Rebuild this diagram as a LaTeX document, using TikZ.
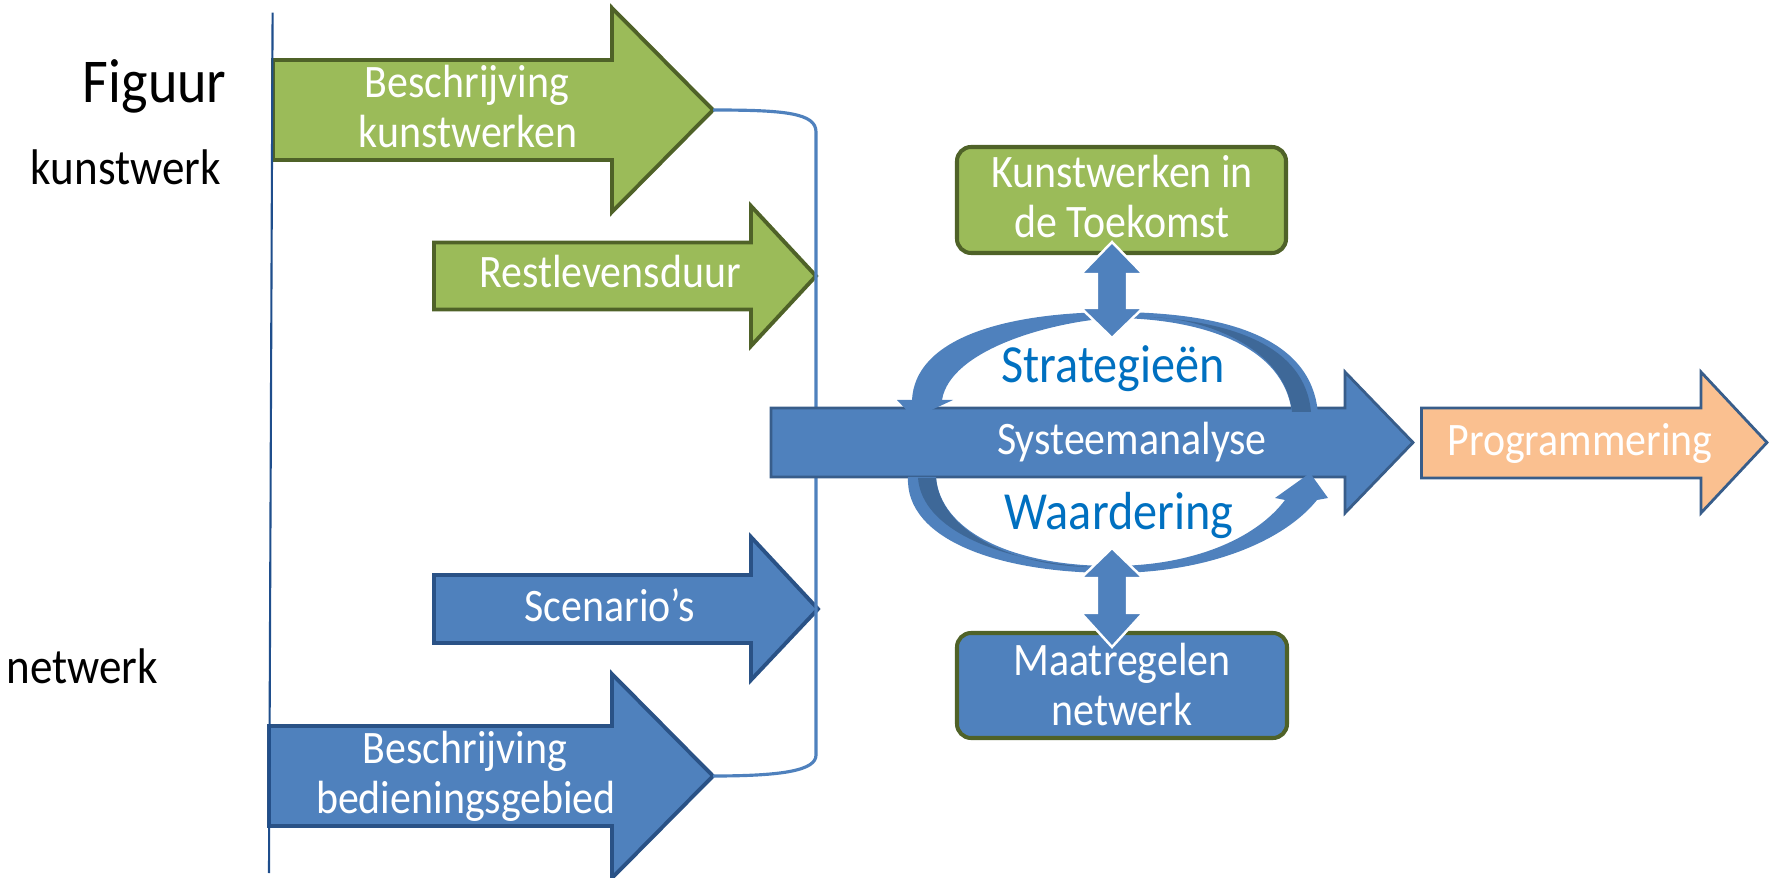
\documentclass[tikz,border=0pt]{standalone}
\usepackage{fontspec}
\setmainfont{Carlito}[FakeStretch=0.9]
\definecolor{gfill}{HTML}{9BBB59}
\definecolor{gline}{HTML}{4F6228}
\definecolor{bfill}{HTML}{4F81BD}
\definecolor{bline}{HTML}{2A5286}
\definecolor{sline}{HTML}{385D8A}
\definecolor{ofill}{HTML}{FAC090}
\definecolor{bdark}{HTML}{3E6898}
\definecolor{tblue}{HTML}{0070C0}
\definecolor{vlinec}{HTML}{1F4E8C}
\begin{document}
\begin{tikzpicture}[x=0.02cm,y=-0.02cm,
  garrow/.style={fill=gfill, draw=gline, line width=2.2pt},
  barrow/.style={fill=bfill, draw=bline, line width=2.2pt},
  sarrow/.style={fill=bfill, draw=sline, line width=1.6pt},
  oarrow/.style={fill=ofill, draw=sline, line width=1.6pt},
  gbox/.style={fill=gfill, draw=gline, line width=2.3pt, rounded corners=8pt},
  bbox/.style={fill=bfill, draw=gline, line width=2.3pt, rounded corners=8pt},
  ribbon/.style={fill=bfill},
  shade/.style={fill=bdark},
  darr/.style={fill=bfill, draw=white, line width=1.4pt},
  bracket/.style={draw=bfill, line width=1.8pt},
  vl/.style={draw=vlinec, line width=1.2pt},
  wt/.style={inner sep=0pt, text=white, anchor=base, font=\fontsize{26.5}{30}\selectfont},
  bt/.style={inner sep=0pt, text=tblue, anchor=base, font=\fontsize{30.5}{34}\selectfont},
  kt/.style={inner sep=0pt, text=black, font=\fontsize{28.5}{32}\selectfont}]
\useasboundingbox (0,0) rectangle (1769,878);

% left arrows
\draw[garrow] (273,60) -- (612,60) -- (612,8) -- (713,110) -- (612,212) -- (612,160) -- (273,160) -- cycle;
\draw[garrow] (434,242.5) -- (751,242.5) -- (751,206) -- (816,276) -- (751,346) -- (751,309.5) -- (434,309.5) -- cycle;
\draw[barrow] (434,575) -- (751,575) -- (751,537) -- (818,609) -- (751,680) -- (751,643) -- (434,643) -- cycle;
\draw[barrow] (269,726) -- (612,726) -- (612,674) -- (713,776) -- (612,878) -- (612,826) -- (269,826) -- cycle;

% bracket
\coordinate (bkT) at (713,110);
\coordinate (bbT) at (713,776);
\coordinate (brTop) at (816,132);
\coordinate (brBot) at (816,755);
\draw[bracket] (bkT) .. controls (785,110) and (816,113) .. (brTop) -- (brBot) .. controls (816,770) and (785,776) .. (bbT);

% vertical line
\coordinate (vTop) at (272.6,12.7);
\coordinate (vBot) at (269,873);
\draw[vl] (vTop) -- (vBot);

% main arrows
\draw[sarrow] (771,408) -- (1345,408) -- (1345,372) -- (1413,442.5) -- (1345,513) -- (1345,477) -- (771,477) -- cycle;
\draw[oarrow] (1421.5,408) -- (1701,408) -- (1701,372) -- (1767,442.5) -- (1701,513) -- (1701,478) -- (1421.5,478) -- cycle;

% cycle: top arc
\fill[ribbon] (912,400) .. controls (915,340) and (1000,313) .. (1112,312)
  .. controls (1220,312) and (1312,335) .. (1318,414) -- (1292,414)
  .. controls (1285,345) and (1200,318) .. (1112,318)
  .. controls (1050,322) and (950,350) .. (942,400)
  -- (953,400) -- (914,418) -- (897,400) -- cycle;
\fill[shade] (1292,412) .. controls (1285,345) and (1200,318) .. (1150,317)
  .. controls (1230,322) and (1305,345) .. (1311,412) -- cycle;
% cycle: bottom arc
\fill[ribbon] (936,477) -- (908,477) .. controls (905,540) and (1000,573) .. (1112,573)
  .. controls (1210,573) and (1285,540) .. (1317,500)
  -- (1328,498) -- (1310,473) -- (1275,498) -- (1285,500)
  .. controls (1255,540) and (1190,566) .. (1112,566)
  .. controls (1010,566) and (940,530) .. (936,477) -- cycle;
\fill[shade] (936,478) .. controls (940,530) and (1010,566) .. (1090,567)
  .. controls (1000,561) and (922,530) .. (918,478) -- cycle;

% boxes
\draw[gbox] (957,147) rectangle (1286,253);
\draw[bbox] (957,633) rectangle (1287,738);

% double arrows
\draw[darr] (1112,242) -- (1143,274) -- (1127,274) -- (1127,308) -- (1143,308) -- (1112,338) -- (1081,308) -- (1097,308) -- (1097,274) -- (1081,274) -- cycle;
\draw[darr] (1112,548) -- (1143,578) -- (1127,578) -- (1127,613) -- (1143,613) -- (1112,647) -- (1081,613) -- (1097,613) -- (1097,578) -- (1081,578) -- cycle;

% texts
\node[kt, anchor=base east, font=\fontsize{35.5}{40}\selectfont] (fig) at (227,103) {Figuur};
\node[kt, anchor=base east] (kw) at (221,185) {kunstwerk};
\node[kt, anchor=base west] (nw) at (6,683) {netwerk};

\node[wt] (bk1) at (467,98) {Beschrijving};
\node[wt] (bk2) at (468,148) {kunstwerken};
\node[wt] (rl) at (610,288) {Restlevensduur};
\node[wt] (sc) at (610,622) {Scenario’s};
\node[wt] (bb1) at (465,763) {Beschrijving};
\node[wt] (bb2) at (466,813) {bedieningsgebied};

\node[wt] (sys) at (1132,455) {Systeemanalyse};
\node[wt] (prog) at (1580,456) {Programmering};
\node[bt] (strat) at (1113,383) {Strategieën};
\node[bt] (waard) at (1119,530) {Waardering};

\node[wt] (kt1) at (1122,188) {Kunstwerken in};
\node[wt] (kt2) at (1122,238) {de Toekomst};
\node[wt] (mn1) at (1122,675) {Maatregelen};
\node[wt] (mn2) at (1122,725) {netwerk};
\end{tikzpicture}
\end{document}
